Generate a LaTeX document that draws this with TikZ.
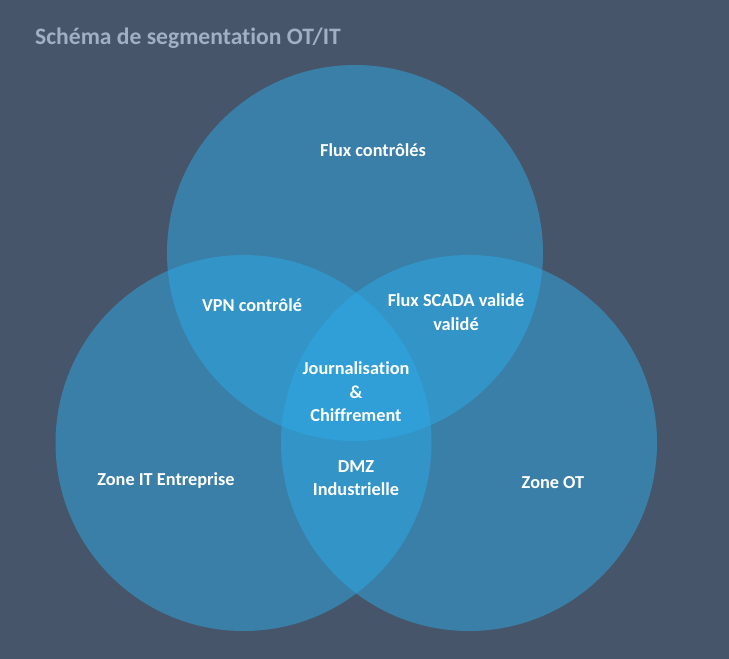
\documentclass[tikz,border=0pt]{standalone}
\usepackage{fontspec}
\setmainfont{Carlito}[Ligatures=NoCommon]
\definecolor{bgc}{RGB}{70,85,105}
\definecolor{venn}{RGB}{46,169,231}
\definecolor{titlec}{RGB}{160,175,196}
\begin{document}
\begin{tikzpicture}[x=1pt,y=-1pt,
  lab/.style={text=white,font=\bfseries\fontsize{18.3}{23.5}\selectfont,align=center,inner sep=0pt},
  vcircle/.style={fill=venn,fill opacity=0.5}]
\fill[bgc] (0,0) rectangle (729,659);
\useasboundingbox (0,0) rectangle (729,659);
\node[anchor=west,text=titlec,font=\bfseries\fontsize{23.6}{28}\selectfont,inner sep=0pt] (title) at (35,38) {Schéma de segmentation OT/IT};
\fill[vcircle] (355,253) circle (188);
\fill[vcircle] (243.5,443) circle (188);
\fill[vcircle] (469,443) circle (188);
\node[lab] (flux) at (373,150) {Flux contrôlés};
\node[lab] (vpn) at (252,305) {VPN contrôlé};
\node[lab] (scada) at (456,312) {Flux SCADA validé\\validé};
\node[lab] (journ) at (356,392) {Journalisation\\\&\\Chiffrement};
\node[lab] (dmz) at (356,478) {DMZ\\Industrielle};
\node[lab] (zit) at (166,481) {Zone IT Entreprise};
\node[lab] (zot) at (553,483) {Zone OT};
\end{tikzpicture}
\end{document}
